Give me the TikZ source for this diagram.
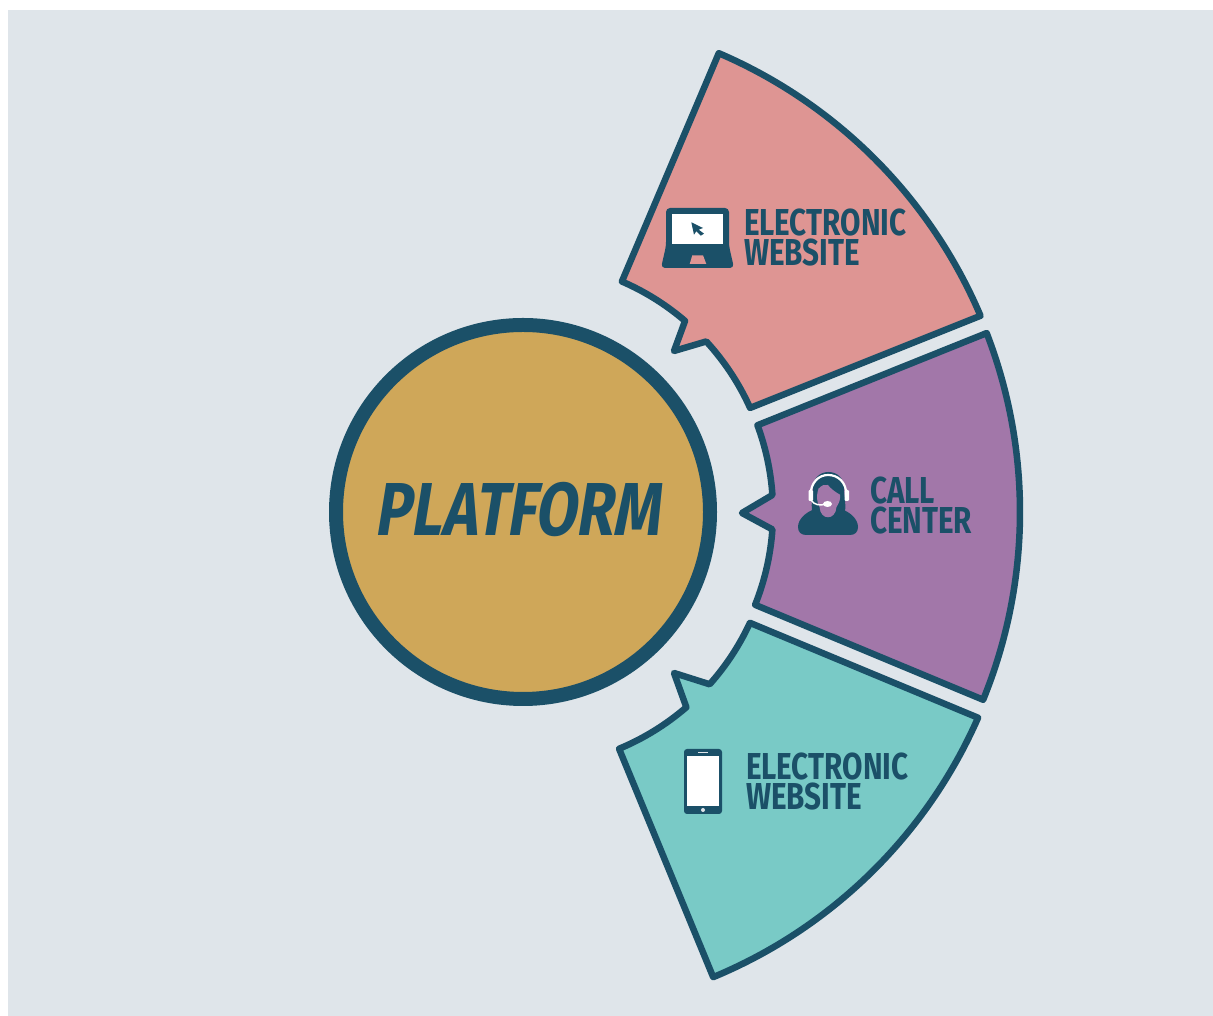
\documentclass[tikz,border=0pt]{standalone}
\usepackage{fontspec}
\newfontfamily\labelfont[FakeStretch=0.79]{Fira Sans Bold}
\newfontfamily\titlefont[FakeStretch=0.80,FakeSlant=0.16]{Fira Sans Bold}
\definecolor{bgc}{HTML}{DFE5EA}
\definecolor{navy}{HTML}{1B5068}
\definecolor{gold}{HTML}{CFA759}
\definecolor{pinkc}{HTML}{DE9593}
\definecolor{purplec}{HTML}{A277A9}
\definecolor{tealc}{HTML}{79CAC6}
\tikzset{
  sector/.style={draw=navy,line width=6.5pt,line join=round},
  lbl/.style={inner sep=0pt,outer sep=0pt,text=navy,align=left,anchor=base west,
    font=\labelfont\fontsize{37.5}{30.5}\selectfont},
  icon/.style={fill=navy,draw=none},
  iconw/.style={fill=white,draw=none}
}
\begin{document}
\begin{tikzpicture}[x=1pt,y=1pt]
\useasboundingbox (0,0) rectangle (1213,1016);
\fill[bgc] (8,0) rectangle (1213,1006);
% coordinates: x = px, y = 1016 - py
\coordinate (ct) at (523,506);
\coordinate (cm) at (523,504);
\coordinate (cb) at (523,498);
% top sector
\draw[sector,fill=pinkc]
  ([shift={(ct)}]66.8:497) arc[start angle=66.8,end angle=23.0,radius=497]
  -- ([shift={(ct)}]24.2:249) arc[start angle=24.2,end angle=42.6,radius=249]
  -- (674,665) -- ([shift={(ct)}]49.4:249) arc[start angle=49.4,end angle=66.6,radius=249] -- cycle;
% middle sector
\draw[sector,fill=purplec]
  ([shift={(cm)}]21.1:497) arc[start angle=21.1,end angle=-22.2,radius=497]
  -- ([shift={(cm)}]-21.8:250) arc[start angle=-21.8,end angle=-4,radius=250]
  -- (742,503) -- ([shift={(cm)}]3.9:250) arc[start angle=3.9,end angle=20.3,radius=250] -- cycle;
% bottom sector
\draw[sector,fill=tealc]
  ([shift={(cb)}]-23.7:497) arc[start angle=-23.7,end angle=-67.5,radius=497]
  -- ([shift={(cb)}]-67.4:250) arc[start angle=-67.4,end angle=-49.2,radius=250]
  -- (674,343) -- ([shift={(cb)}]-41.7:250) arc[start angle=-41.7,end angle=-24.8,radius=250] -- cycle;
% platform
\node[circle,draw=navy,fill=gold,line width=14pt,minimum size=374pt,inner sep=0pt,outer sep=0pt] (platform) at (523,504) {};
\node[inner sep=0pt,anchor=base,text=navy,font=\titlefont\fontsize{75}{75}\selectfont] (ptitle) at (517.5,480) {PLATFORM};
% labels
\node[lbl] (l1) at (744,750) {ELECTRONIC\\WEBSITE};
\node[lbl] (l2) at (870,482) {CALL\\CENTER};
\node[lbl] (l3) at (746,206) {ELECTRONIC\\WEBSITE};
% laptop icon
\fill[icon,rounded corners=4pt] (666,770) -- (666,808) -- (729,808) -- (729,770) -- (734,748) -- (661,748) -- cycle;
\fill[iconw] (672.3,802) rectangle (723,771.5);
\fill[pinkc] (692.3,760.7) -- (703,760.7) -- (706.3,752) -- (689.7,752) -- cycle;
\fill[icon] (691.3,793.7) -- (703,788) -- (698.7,786.3) -- (704,782.3) -- (700.7,780.3) -- (696.3,784.7) -- (694,781.3) -- cycle;
% agent icon
\fill[icon] (798,489) .. controls (798,484) and (801,481) .. (806,481) -- (850,481)
  .. controls (855,481) and (858,484) .. (858,489)
  .. controls (858,497) and (850,504) .. (841,507) -- (815,507)
  .. controls (806,504) and (798,497) .. cycle;
\fill[icon] (812,503) .. controls (811,515) and (813,522) .. (813,528)
  .. controls (813,538) and (820,544) .. (828.5,544)
  .. controls (837,544) and (844,538) .. (844,528)
  .. controls (844,522) and (846,515) .. (845,503) -- cycle;
\fill[purplec] (818.5,527.3) .. controls (822,531) and (825,532) .. (828,531)
  .. controls (830,528) and (835,524) .. (840,521.3)
  .. controls (840.5,516) and (839,513) .. (836.5,509)
  .. controls (836,502) and (832,498.7) .. (828,498.7)
  .. controls (824,498.7) and (820,502) .. (819.5,509)
  .. controls (817,513) and (816,520) .. cycle;
\draw[white,line width=2.2pt] (810.5,520) .. controls (810.5,534) and (819,541) .. (828,541)
  .. controls (838,541) and (846.5,534) .. (846.5,520);
\fill[iconw,rounded corners=1.2pt] (808.5,515) rectangle (813,526);
\fill[iconw,rounded corners=1.2pt] (844.5,515) rectangle (849,526);
\draw[white,line width=1.5pt] (811,516) .. controls (814,511) and (820,510) .. (826,512);
\fill[iconw] (827.5,512) ellipse (4.5 and 3);
% phone icon
\fill[icon,rounded corners=3pt] (684,267) rectangle (722,202);
\fill[iconw] (687,260) rectangle (719,210);
\fill[bgc] (703,206) circle (2);
\fill[bgc] (698,263.5) rectangle (708,264.3);
\end{tikzpicture}
\end{document}
